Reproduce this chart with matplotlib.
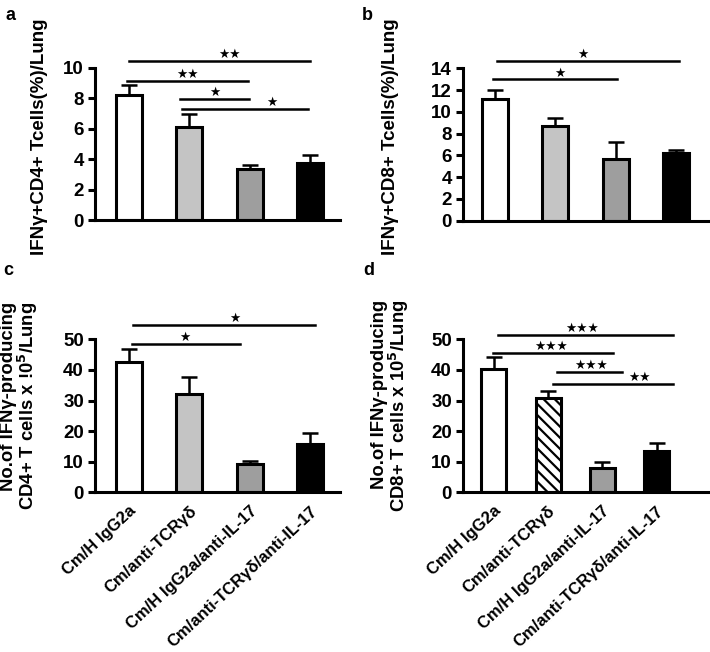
import numpy as np
import matplotlib
matplotlib.use("Agg")
import matplotlib.pyplot as plt

plt.rcParams['font.family'] = ['Liberation Sans', 'DejaVu Sans']
plt.rcParams['font.weight'] = 'bold'
plt.rcParams['hatch.linewidth'] = 1.6

W, H = 710, 652

groups = ["Cm/H IgG2a", "Cm/anti-TCRγδ", "Cm/H IgG2a/anti-IL-17", "Cm/anti-TCRγδ/anti-IL-17"]

# panel a: IFNg+ CD4+ (%)
a_vals = [8.2, 6.15, 3.35, 3.75]
a_err = [0.7, 0.8, 0.3, 0.55]
# panel b: IFNg+ CD8+ (%)
b_vals = [11.15, 8.7, 5.7, 6.2]
b_err = [0.85, 0.75, 1.5, 0.3]
# panel c: CD4+ counts x 10^5
c_vals = [42.7, 32.0, 9.4, 15.8]
c_err = [4.0, 5.6, 0.9, 3.7]
# panel d: CD8+ counts x 10^5
d_vals = [40.4, 30.9, 7.8, 13.6]
d_err = [3.8, 2.3, 2.0, 2.4]

# significance brackets: (x start, x end, y, star x, label)
a_sig = [(0.0, 3.0, 10.45, 1.67, "★★"), (-0.03, 1.97, 9.15, 0.97, "★★"),
         (0.85, 1.98, 7.95, 1.42, "★"), (0.88, 2.96, 7.3, 2.36, "★")]
b_sig = [(0.03, 3.05, 14.65, 1.46, "★"), (-0.03, 2.02, 12.97, 1.08, "★")]
c_sig = [(0.07, 3.07, 54.7, 1.75, "★"), (0.05, 1.83, 48.5, 0.93, "★")]
d_sig = [(0.07, 3.3, 51.5, 1.62, "★★★"), (-0.02, 2.2, 45.6, 1.06, "★★★"),
         (1.16, 2.36, 39.4, 1.8, "★★★"), (1.09, 3.3, 35.4, 2.68, "★★")]

fills = ["white", "#c4c4c4", "#9e9e9e", "black"]


def px_axes(fig, left, right, y0, ppu, ymax):
    # place axes from pixel coordinates: y0 = pixel row of value 0, ppu = px per unit
    top = y0 - ppu * ymax
    return fig.add_axes([left / W, 1 - y0 / H, (right - left) / W, (y0 - top) / H])


def draw_panel(ax, vals, err, sig, ymax_tick, step, xlim, width, hatch_second=False, labels=False):
    x = np.arange(len(vals))
    ax.errorbar(x, vals, yerr=[np.zeros(len(err)), err], fmt='none', ecolor='black',
                elinewidth=1.8, capsize=6, capthick=1.8, zorder=1)
    bars = ax.bar(x, vals, width=width, color=fills, edgecolor='black', linewidth=2.2, zorder=2)
    if hatch_second:
        bars[1].set_facecolor('white')
        bars[1].set_hatch('\\\\\\')
    for x1, x2, y, xs, lab in sig:
        ax.plot([x1, x2], [y, y], color='black', lw=1.8, clip_on=False)
        ax.text(xs, y, lab, ha='center', va='bottom', fontsize=9, family='DejaVu Sans')
    ax.set_xlim(*xlim)
    ax.spines['top'].set_visible(False)
    ax.spines['right'].set_visible(False)
    ax.spines['left'].set_linewidth(2.2)
    ax.spines['bottom'].set_linewidth(2.2)
    ax.spines['left'].set_bounds(0, ymax_tick)
    ax.set_yticks(np.arange(0, ymax_tick + step / 2, step))
    ax.tick_params(axis='y', length=5, width=2.2, labelsize=13.5, pad=3)
    ax.tick_params(axis='x', length=0, pad=8)
    if labels:
        ax.set_xticks(x)
        ax.set_xticklabels(groups, rotation=43, ha='right', rotation_mode='anchor', fontsize=12)
    else:
        ax.set_xticks([])


fig = plt.figure(figsize=(W / 100, H / 100), dpi=100)

ax_a = px_axes(fig, 95, 340, 220, 15.2, 11)
ax_a.set_ylim(0, 11)
draw_panel(ax_a, a_vals, a_err, a_sig, 10, 2, (-0.56, 3.49), 0.43)

ax_b = px_axes(fig, 463, 708, 220.7, 10.89, 15.5)
ax_b.set_ylim(0, 15.5)
draw_panel(ax_b, b_vals, b_err, b_sig, 14, 2, (-0.53, 3.53), 0.43)

ax_c = px_axes(fig, 95, 340, 492.3, 3.06, 57)
ax_c.set_ylim(0, 57)
draw_panel(ax_c, c_vals, c_err, c_sig, 50, 10, (-0.56, 3.49), 0.43, labels=True)

ax_d = px_axes(fig, 463, 708, 492.3, 3.06, 55)
ax_d.set_ylim(0, 55)
draw_panel(ax_d, d_vals, d_err, d_sig, 50, 10, (-0.57, 3.95), 0.46, hatch_second=True, labels=True)

# y labels
fig.text(40 / W, 1 - 137 / H, "IFNγ+CD4+ Tcells(%)/Lung", rotation=90, ha='center', va='center', fontsize=13.5)
fig.text(390 / W, 1 - 137 / H, "IFNγ+CD8+ Tcells(%)/Lung", rotation=90, ha='center', va='center', fontsize=13.5)
fig.text(20 / W, 1 - 406 / H, "No.of IFNγ-producing\nCD4+ T cells x !0$^{\\bf 5}$/Lung", rotation=90,
         ha='center', va='center', fontsize=13.3, linespacing=0.95, multialignment='right')
fig.text(391 / W, 1 - 406 / H, "No.of IFNγ-producing\nCD8+ T cells x 10$^{\\bf 5}$/Lung", rotation=90,
         ha='center', va='center', fontsize=13.3, linespacing=0.95, multialignment='right')

# panel letters
for lab, px, py in [("a", 5, 15), ("b", 362, 15), ("c", 3, 270), ("d", 363, 270)]:
    fig.text(px / W, 1 - py / H, lab, ha='left', va='center', fontsize=13)

fig.savefig("out.png", dpi=100)
